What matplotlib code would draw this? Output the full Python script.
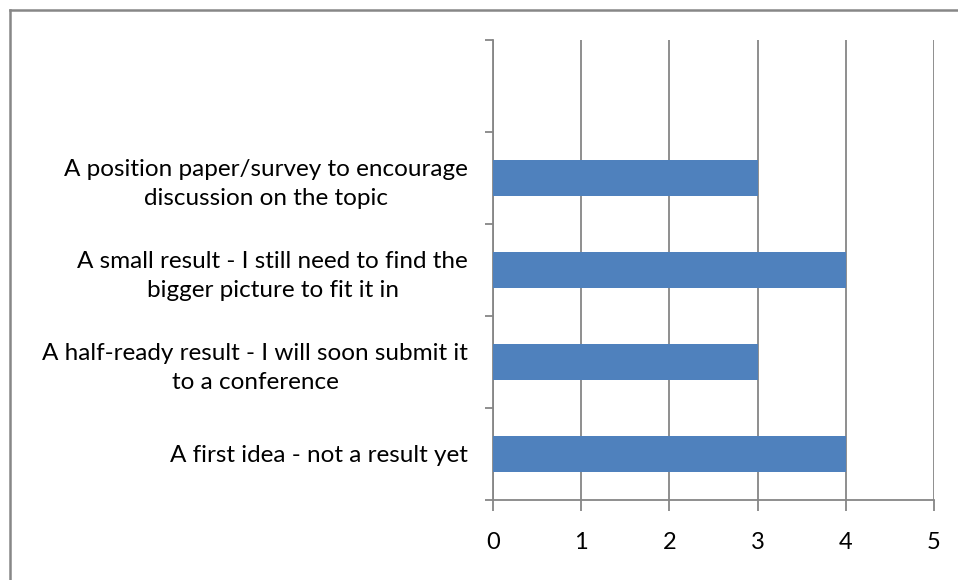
import matplotlib.pyplot as plt
from matplotlib.lines import Line2D

categories = ["A first idea - not a result yet",
              "A half-ready result - I will soon submit it\nto a conference",
              "A small result - I still need to find the\nbigger picture to fit it in",
              "A position paper/survey to encourage\ndiscussion on the topic",
              ""]
values = [4, 3, 4, 3, None]
x_ticks = [0, 1, 2, 3, 4, 5]

bar_color = "#4F81BD"
grid_color = "#868686"

plt.rcParams['font.family'] = ['Lato', 'DejaVu Sans']

fig = plt.figure(figsize=(9.58, 5.8), dpi=100)
ax = fig.add_axes([493 / 958, 1 - 500 / 580, (934 - 493) / 958, (500 - 40) / 580])

pos = list(range(len(categories)))
for p, v in zip(pos, values):
    if v is not None:
        ax.barh(p, v, height=0.4, color=bar_color, zorder=3)

ax.set_xlim(0, 5)
ax.set_ylim(-0.5, len(categories) - 0.5)
ax.set_xticks(x_ticks)
ax.set_xticklabels([str(t) for t in x_ticks], fontsize=17)
ax.xaxis.grid(True, color=grid_color, linewidth=1.3, zorder=0)

# category ticks sit at the slot boundaries, labels in the middle
ax.set_yticks([p - 0.5 for p in pos] + [len(categories) - 0.5])
ax.set_yticklabels([])
ax.set_yticks(pos, minor=True)
ax.set_yticklabels(categories, minor=True, fontsize=17.5, ha='right',
                   multialignment='center', linespacing=1.45)
ax.tick_params(axis='y', which='minor', length=0, pad=18)
ax.tick_params(axis='y', which='major', length=6, color=grid_color, width=1.3)
ax.tick_params(axis='x', length=8, color=grid_color, width=1.3, pad=15)

for s in ['top', 'right']:
    ax.spines[s].set_visible(False)
for s in ['left', 'bottom']:
    ax.spines[s].set_color(grid_color)
    ax.spines[s].set_linewidth(1.3)

# outer chart border (left and top only visible in the crop)
fig.add_artist(Line2D([9.5 / 958, 9.5 / 958], [0, 1 - 10 / 580], color="#878787", linewidth=1.8, transform=fig.transFigure))
fig.add_artist(Line2D([9.5 / 958, 1], [1 - 10 / 580, 1 - 10 / 580], color="#878787", linewidth=1.8, transform=fig.transFigure))

fig.savefig("out.png", dpi=100)
